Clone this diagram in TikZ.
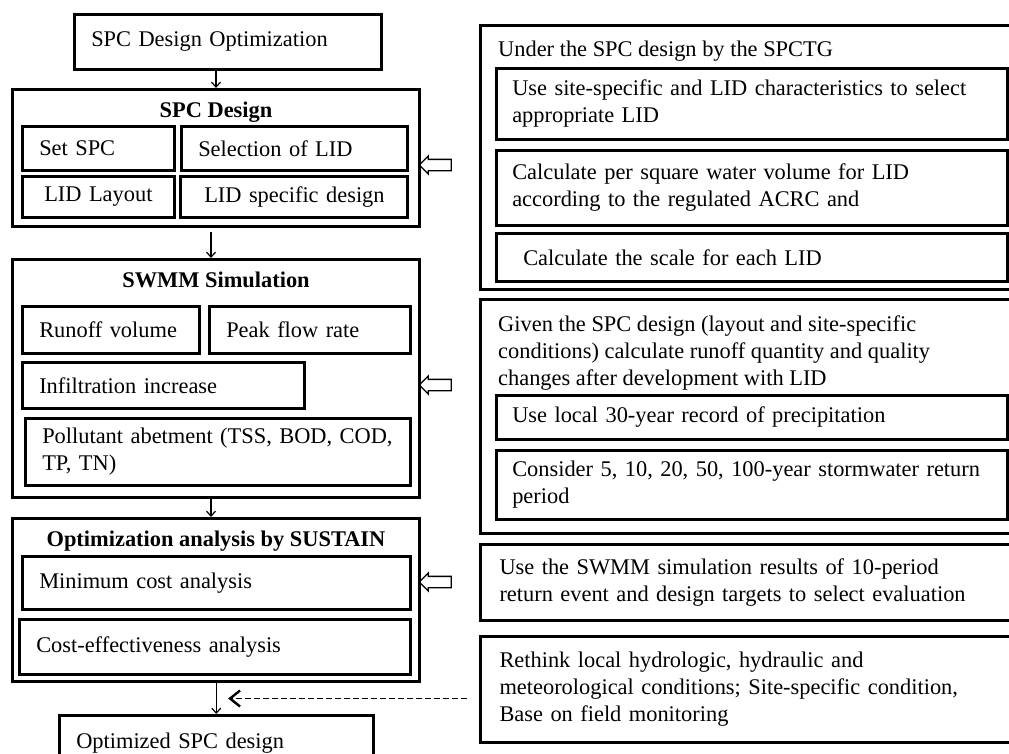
\documentclass[tikz,border=0pt]{standalone}
\usepackage{fontspec}
\setmainfont{Liberation Serif}
\usetikzlibrary{positioning,calc,shapes.arrows,arrows.meta}

\begin{document}
\begin{tikzpicture}[x=1pt,y=-1pt,
  font=\fontsize{22.4}{27}\selectfont,
  outbox/.style 2 args={draw,line width=3pt,anchor=north west,minimum width=#1,minimum height=#2,inner sep=0pt},
  inbox/.style 2 args={draw,line width=2.5pt,anchor=north west,align=left,inner xsep=17pt,inner ysep=0pt,text width=#1,minimum height=#2},
  title/.style={font=\fontsize{22.4}{27}\selectfont\bfseries,inner sep=0pt},
  note/.style={align=left,inner sep=0pt,anchor=north west},
  hollow/.style={draw,single arrow,shape border rotate=180,minimum height=32pt,inner xsep=0pt,inner ysep=5pt,single arrow head extend=3.5pt,line width=1.3pt},
  flow/.style={line width=1.2pt,-{Straight Barb[length=5pt,width=9pt]}},
  dashflow/.style={line width=1.8pt,dash pattern=on 6pt off 3pt,-{Straight Barb[length=10pt,width=16pt,line width=2.4pt]}}]
\useasboundingbox (0,0) rectangle (1009,753);

% left column
\node[inbox={273pt}{55pt}] (opt) at (73,13) {SPC Design Optimization};

\node[outbox={407pt}{137pt}] (spc) at (11,88) {};
\node[title,below=14pt of spc.north] (spct) {SPC Design};
\node[inbox={118pt}{44pt}] (set) at (21,125) {Set SPC};
\node[inbox={192pt}{44pt}] (sel) at (180,125) {Selection of LID};
\node[inbox={118pt}{41pt}] (lay) at (21,175) {\hspace*{5pt}LID Layout};
\node[inbox={193pt}{41pt}] (lsd) at (179,175) {\hspace*{7pt}LID specific design};

\node[outbox={407pt}{238pt}] (swmm) at (11,258) {};
\node[title,below=14pt of swmm.north] (swmmt) {SWMM Simulation};
\node[inbox={143pt}{47pt}] (run) at (21,305) {Runoff volume};
\node[inbox={167pt}{47pt}] (peak) at (208,305) {Peak flow rate};
\node[inbox={248pt}{46pt}] (inf) at (21,361) {Infiltration increase};
\node[inbox={351pt}{67pt}] (pol) at (24,417) {Pollutant abetment (TSS, BOD, COD,\\TP, TN)};

\node[outbox={407pt}{163pt}] (sus) at (11,517) {};
\node[title,below=14pt of sus.north] (sust) {Optimization analysis by SUSTAIN};
\node[inbox={354pt}{53pt}] (mincost) at (21,555) {Minimum cost analysis};
\node[inbox={357pt}{55pt}] (costeff) at (18,618) {Cost-effectiveness analysis};

\node[inbox={280pt}{56pt}] (final) at (58,714) {Optimized SPC design};

% right column
\node[outbox={536pt}{264pt}] (spctg) at (479,24) {};
\node[note,below right=17pt and 19pt of spctg.north west] (spctgt) {Under the SPC design by the SPCTG};
\node[inbox={479pt}{71pt},inner xsep=16pt] (r1) at (495,67) {Use site-specific and LID characteristics to select\\appropriate LID};
\node[inbox={479pt}{75pt},inner xsep=16pt] (r2) at (495,149) {Calculate per square water volume for LID\\according to the regulated ACRC and};
\node[inbox={457pt}{48pt},inner xsep=27pt] (r3) at (495,232) {Calculate the scale for each LID};

\node[outbox={536pt}{234pt}] (given) at (479,298) {};
\node[note,below right=18pt and 19pt of given.north west] (givent) {Given the SPC design (layout and site-specific\\conditions) calculate runoff quantity and quality\\changes after development with LID};
\node[inbox={479pt}{44pt},inner xsep=16pt] (r4) at (495,394) {Use local 30-year record of precipitation};
\node[inbox={479pt}{69pt},inner xsep=16pt] (r5) at (495,449) {Consider 5, 10, 20, 50, 100-year stormwater return\\period};

\node[inbox={498pt}{76pt},inner xsep=19pt,line width=3pt] (eval) at (479,543) {Use the SWMM simulation results of 10-period\\return event and design targets to select evaluation};
\node[inbox={498pt}{106pt},inner xsep=19pt,line width=3pt] (rethink) at (479,635) {Rethink local hydrologic, hydraulic and\\meteorological conditions; Site-specific condition,\\Base on field monitoring};

% hollow arrows
\node[hollow] (h1) at (438,165) {};
\node[hollow] (h2) at (438,385) {};
\node[hollow] (h3) at (438,582) {};

% flow
\draw[flow] (opt.south -| spc.north) -- (spc.north);
\draw[flow] ([xshift=-5pt,yshift=-4pt]spc.south) -- ([xshift=-5pt]swmm.north);
\draw[flow] ([xshift=-5pt]swmm.south) -- ([xshift=-5pt]sus.north);
\draw[flow] (sus.south -| final.north) -- (final.north);
\coordinate (join) at ($(sus.south)!0.5!(final.north)$);
\draw[dashflow,shorten <=12pt,shorten >=12pt] (rethink.west |- join) -- (join);
\end{tikzpicture}
\end{document}
